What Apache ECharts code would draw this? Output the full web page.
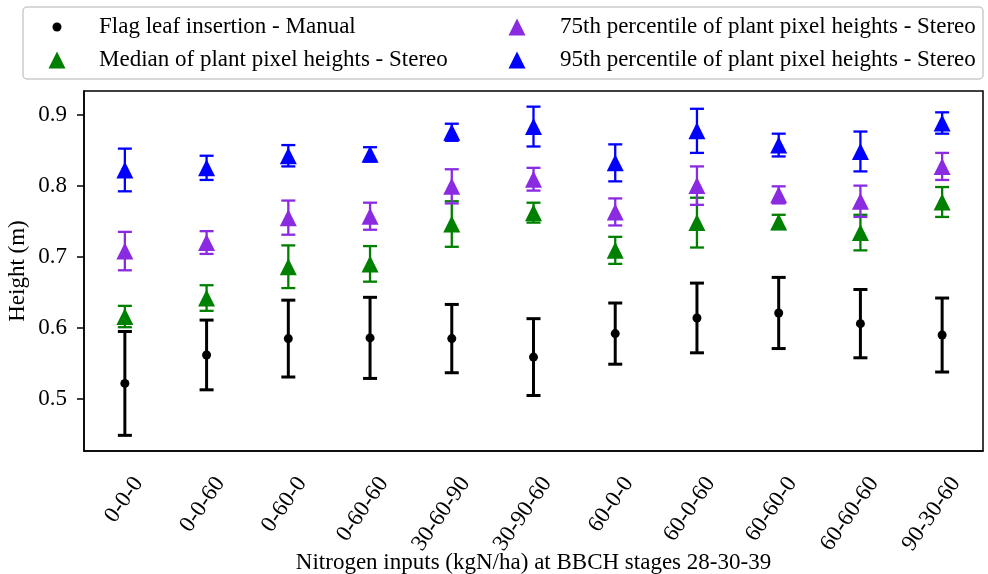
<!DOCTYPE html>
<html>
<head>
<meta charset="utf-8">
<script src="https://cdn.jsdelivr.net/npm/echarts@6/dist/echarts.min.js"></script>
<style>
  html, body { margin: 0; padding: 0; background: #fff; }
  #chart { width: 988px; height: 574px; }
</style>
</head>
<body>
<div id="chart"></div>
<script>
// Nitrogen treatments (kgN/ha at BBCH 28-30-39)
const categories = ['0-0-0', '0-0-60', '0-60-0', '0-60-60', '30-60-90', '30-90-60',
                    '60-0-0', '60-0-60', '60-60-0', '60-60-60', '90-30-60'];

// Flag leaf insertion height, manual measurement (m) and its error
const manualMean = [0.522, 0.562, 0.585, 0.586, 0.585, 0.559, 0.592, 0.614, 0.621, 0.606, 0.590];
const manualErr  = [0.073, 0.049, 0.054, 0.057, 0.048, 0.054, 0.043, 0.049, 0.050, 0.048, 0.052];

// Stereo-derived plant pixel heights (m)
const medianVal = [0.616, 0.642, 0.686, 0.690, 0.746, 0.762, 0.709, 0.748, 0.749, 0.734, 0.777];
const medianErr = [0.015, 0.018, 0.030, 0.025, 0.032, 0.014, 0.019, 0.035, 0.010, 0.025, 0.021];

const p75Val = [0.708, 0.720, 0.755, 0.757, 0.799, 0.809, 0.763, 0.800, 0.787, 0.778, 0.827];
const p75Err = [0.027, 0.016, 0.024, 0.019, 0.024, 0.016, 0.019, 0.027, 0.012, 0.022, 0.019];

const p95Val = [0.822, 0.825, 0.842, 0.844, 0.875, 0.883, 0.832, 0.877, 0.857, 0.848, 0.888];
const p95Err = [0.030, 0.017, 0.015, 0.010, 0.012, 0.028, 0.026, 0.031, 0.016, 0.028, 0.015];

const yTicks = [0.5, 0.6, 0.7, 0.8, 0.9];

const FONT = 'Liberation Serif';

const groups = [
  { name: 'Flag leaf insertion - Manual', vals: manualMean, errs: manualErr, color: '#000000',
    symbol: 'circle', size: 9, lw: 3 },
  { name: 'Median of plant pixel heights - Stereo', vals: medianVal, errs: medianErr, color: '#008000',
    symbol: 'triangle', size: 17, lw: 2.3 },
  { name: '75th percentile of plant pixel heights - Stereo', vals: p75Val, errs: p75Err, color: '#8a2be2',
    symbol: 'triangle', size: 17, lw: 2.3 },
  { name: '95th percentile of plant pixel heights - Stereo', vals: p95Val, errs: p95Err, color: '#0000ff',
    symbol: 'triangle', size: 17, lw: 2.3 }
];

function errorBarSeries(g, idx) {
  const data = g.vals.map((v, i) => [i, v - g.errs[i], v + g.errs[i]]);
  return {
    type: 'custom',
    name: g.name + ' err',
    z: 2 + idx * 2,
    silent: true,
    encode: { x: 0, y: [1, 2] },
    data: data,
    renderItem: function (params, api) {
      const x = api.value(0);
      const lo = api.coord([x, api.value(1)]);
      const hi = api.coord([x, api.value(2)]);
      const cap = 7;
      const st = { stroke: g.color, lineWidth: g.lw };
      return {
        type: 'group',
        children: [
          { type: 'line', shape: { x1: lo[0], y1: lo[1], x2: hi[0], y2: hi[1] }, style: st },
          { type: 'line', shape: { x1: lo[0] - cap, y1: lo[1], x2: lo[0] + cap, y2: lo[1] }, style: st },
          { type: 'line', shape: { x1: hi[0] - cap, y1: hi[1], x2: hi[0] + cap, y2: hi[1] }, style: st }
        ]
      };
    }
  };
}

function pointSeries(g, idx) {
  return {
    type: 'scatter',
    name: g.name,
    z: 3 + idx * 2,
    symbol: g.symbol,
    symbolSize: g.size,
    itemStyle: { color: g.color, opacity: 1 },
    data: g.vals.map((v, i) => [i, v])
  };
}

const series = [];
groups.forEach((g, i) => { series.push(errorBarSeries(g, i)); series.push(pointSeries(g, i)); });

// One legend block per entry, laid out in two columns inside a shared frame
const legendPos = [
  { cx: 57, cy: 26, w: 9, h: 9, textX: 99 },
  { cx: 57, cy: 59, w: 17, h: 17, textX: 99 },
  { cx: 517, cy: 26, w: 17, h: 17, textX: 560 },
  { cx: 517, cy: 59, w: 17, h: 17, textX: 560 }
];
const legends = groups.map((g, i) => {
  const p = legendPos[i];
  const left = p.cx - p.w / 2;
  return {
    data: [g.name],
    left: left,
    top: p.cy - 11,
    padding: 0,
    itemWidth: p.w,
    itemHeight: p.h,
    selectedMode: false,
    textStyle: {
      fontFamily: FONT, fontSize: 23, color: '#000', lineHeight: 24,
      padding: [0, 0, 0, p.textX - (left + p.w + 5)]
    }
  };
});

const chart = echarts.init(document.getElementById('chart'), null, { renderer: 'canvas' });
chart.setOption({
  backgroundColor: '#ffffff',
  animation: false,
  graphic: [{
    type: 'rect',
    z: -1,
    shape: { x: 23, y: 7, width: 960, height: 72, r: 4 },
    style: { fill: 'rgba(255,255,255,0.8)', stroke: '#cccccc', lineWidth: 1.5 }
  }],
  legend: legends,
  grid: {
    left: 84, right: 5, top: 91, bottom: 123,
    outerBoundsMode: 'none',
    containLabel: false,
    show: true, borderColor: '#000', borderWidth: 1.5, backgroundColor: 'transparent'
  },
  xAxis: {
    type: 'category',
    data: categories,
    boundaryGap: true,
    name: 'Nitrogen inputs (kgN/ha) at BBCH stages 28-30-39',
    nameLocation: 'middle',
    nameGap: 100,
    nameMoveOverlap: false,
    nameTextStyle: { fontFamily: FONT, fontSize: 23, color: '#000' },
    axisLine: { lineStyle: { color: '#000', width: 1.5 } },
    axisTick: { alignWithLabel: true, length: 7, lineStyle: { color: '#000', width: 1.5 } },
    axisLabel: {
      rotate: 55, interval: 0,
      fontFamily: FONT, fontSize: 23, color: '#000',
      align: 'right', verticalAlign: 'top',
      margin: 19, padding: [5, 0, 0, 0]
    },
    splitLine: { show: false }
  },
  yAxis: {
    type: 'value',
    min: 0.427,
    max: 0.933,
    name: 'Height (m)',
    nameLocation: 'middle',
    nameGap: 55,
    nameMoveOverlap: false,
    nameTextStyle: { fontFamily: FONT, fontSize: 23, color: '#000' },
    axisLine: { show: true, lineStyle: { color: '#000', width: 1.5 } },
    axisTick: { show: true, length: 7, customValues: yTicks, lineStyle: { color: '#000', width: 1.5 } },
    axisLabel: {
      customValues: yTicks, fontFamily: FONT, fontSize: 23, color: '#000', margin: 17,
      formatter: v => v.toFixed(1)
    },
    splitLine: { show: false }
  },
  tooltip: { show: false },
  series: series
});
</script>
</body>
</html>
